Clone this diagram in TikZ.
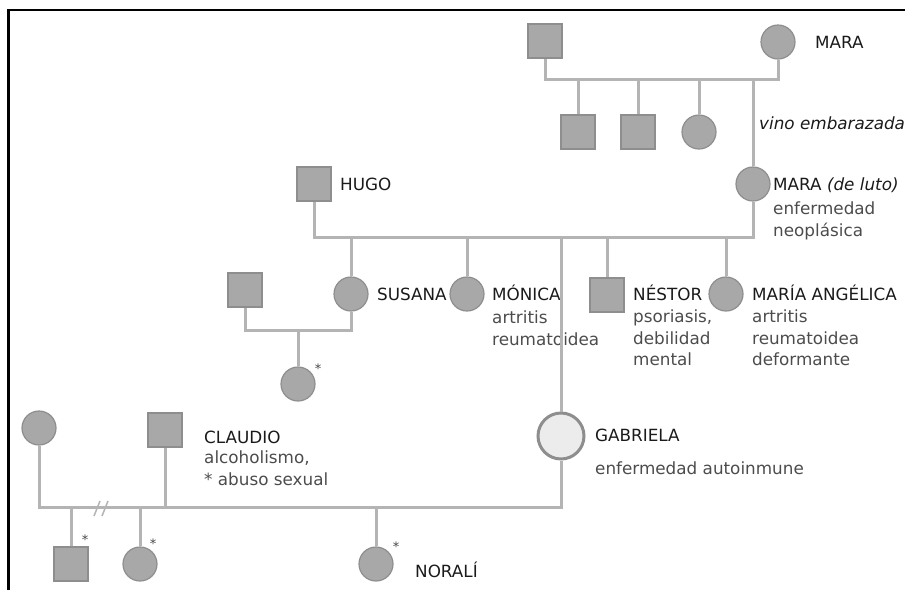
\documentclass[tikz,border=0pt]{standalone}
\usepackage{fontspec}
\setmainfont{DejaVu Sans}
\definecolor{pedline}{HTML}{B4B4B4}
\definecolor{pedfill}{HTML}{A8A8A8}
\definecolor{peddraw}{HTML}{8E8E8E}
\definecolor{pedname}{HTML}{1A1A1A}
\definecolor{pedtext}{HTML}{4C4C4C}
\definecolor{pedlight}{HTML}{ECECEC}
\usepackage{tikz}
\usetikzlibrary{positioning}

\tikzset{
	male/.style = {rectangle, fill = pedfill, draw = peddraw, line width = 1.2pt, minimum size = 34pt, inner sep = 0pt},
	female/.style = {circle, fill = pedfill, draw = peddraw, line width = 1.2pt, minimum size = 34pt, inner sep = 0pt},
	proband/.style = {circle, fill = pedlight, draw = peddraw, line width = 3pt, minimum size = 46pt, inner sep = 0pt},
	link/.style = {draw = pedline, line width = 3pt},
	lbl/.style = {anchor = west, inner sep = 0pt, text height = 13pt, text depth = 4pt, font = \fontsize{16.8}{21.5}\selectfont, text = pedname},
	note/.style = {anchor = north west, inner sep = 0pt, align = left, font = \fontsize{16.8}{21.5}\selectfont, text = pedtext, execute at begin node = \strut},
	asterisk/.style = {inner sep = 0pt, font = \fontsize{13}{13}\selectfont, text = pedname!80}
}

\begin{document}
	\begin{tikzpicture}[x = 1pt, y = -1pt]
		\useasboundingbox (0,0) rectangle (905,590);
		\draw[line width = 2.5pt] (8.5,590) -- (8.5,10) -- (905,10);

		% abuelos maternos
		\node[male] (gpa) at (545,41) {};
		\node[female] (mara) at (778,42) {};
		\node[lbl] (mara-n) at (815,44) {MARA};
		\coordinate (sib1) at (0,79);
		\node[male] (tio1) at (578,132) {};
		\node[male] (tio2) at (638,132) {};
		\node[female] (tia1) at (699,132) {};
		\node[female] (marab) at (753,184) {};
		\node[lbl, font = \fontsize{16.8}{21.5}\selectfont\itshape] (vino) at (759,125) {vino embarazada};
		\node[lbl] (marab-n) at (773,186) {MARA \textit{(de luto)}};
		\node[note, below = 7pt of marab-n.south west, anchor = north west] (marab-d) {enfermedad\\neoplásica};

		\draw[link] (gpa.south) |- (mara |- sib1) -- (mara.south);
		\draw[link] (tio1.north) -- (tio1 |- sib1);
		\draw[link] (tio2.north) -- (tio2 |- sib1);
		\draw[link] (tia1.north) -- (tia1 |- sib1);
		\draw[link] (marab.north) -- (marab |- sib1);

		% padres y hermanos
		\node[male] (hugo) at (314,184) {};
		\node[lbl] (hugo-n) at (340,186) {HUGO};
		\coordinate (sib2) at (0,237);
		\node[female] (susana) at (351,294) {};
		\node[lbl] (susana-n) at (377,296) {SUSANA};
		\node[female] (monica) at (467,294) {};
		\node[lbl] (monica-n) at (492,296) {MÓNICA};
		\node[note, below = 6pt of monica-n.south west, anchor = north west] (monica-d) {artritis\\reumatoidea};
		\node[male] (nestor) at (607,295) {};
		\node[lbl] (nestor-n) at (633,296) {NÉSTOR};
		\node[note, below = 5pt of nestor-n.south west, anchor = north west] (nestor-d) {psoriasis,\\debilidad\\mental};
		\node[female] (mangelica) at (726,294) {};
		\node[lbl] (mangelica-n) at (752,296) {MARÍA ANGÉLICA};
		\node[note, below = 5pt of mangelica-n.south west, anchor = north west] (mangelica-d) {artritis\\reumatoidea\\deformante};
		\node[proband] (gabriela) at (561,436) {};
		\node[lbl] (gabriela-n) at (595,437) {GABRIELA};
		\node[note, below = 14pt of gabriela-n.south west, anchor = north west] (gabriela-d) {enfermedad autoinmune};

		\draw[link] (hugo.south) |- (marab |- sib2) -- (marab.south);
		\draw[link] (susana.north) -- (susana |- sib2);
		\draw[link] (monica.north) -- (monica |- sib2);
		\draw[link] (nestor.north) -- (nestor |- sib2);
		\draw[link] (mangelica.north) -- (mangelica |- sib2);
		\draw[link] (gabriela.north) -- (gabriela |- sib2);

		% familia de susana
		\node[male] (susana-p) at (245,290) {};
		\coordinate (sib3) at (0,330);
		\node[female] (sobrina) at (298,384) {};
		\node[asterisk] at (318,369) {*};
		\draw[link] (susana-p.south) |- (susana |- sib3) -- (susana.south);
		\draw[link] (sobrina.north) -- (sobrina |- sib3);

		% claudio y sus hijos
		\node[female] (ex) at (39,428) {};
		\node[male] (claudio) at (165,430) {};
		\node[lbl] (claudio-n) at (204,439) {CLAUDIO};
		\node[note, below = 3pt of claudio-n.south west, anchor = north west] (claudio-d) {alcoholismo,\\* abuso sexual};
		\coordinate (sib4) at (0,507);
		\node[male] (hijo1) at (71,564) {};
		\node[asterisk] at (85,540) {*};
		\node[female] (hija1) at (140,564) {};
		\node[asterisk] at (153,544) {*};
		\node[female] (norali) at (376,564) {};
		\node[asterisk] at (396,547) {*};
		\node[lbl] (norali-n) at (415,573) {NORALÍ};

		\draw[link] (ex.south) |- (gabriela |- sib4) -- (gabriela.south);
		\draw[link] (claudio.south) -- (claudio |- sib4);
		\draw[link] (hijo1.north) -- (hijo1 |- sib4);
		\draw[link] (hija1.north) -- (hija1 |- sib4);
		\draw[link] (norali.north) -- (norali |- sib4);
		\draw[draw = pedline, line width = 1.5pt] (94,516) -- (100,501) (102,516) -- (108,501);
	\end{tikzpicture}
\end{document}
